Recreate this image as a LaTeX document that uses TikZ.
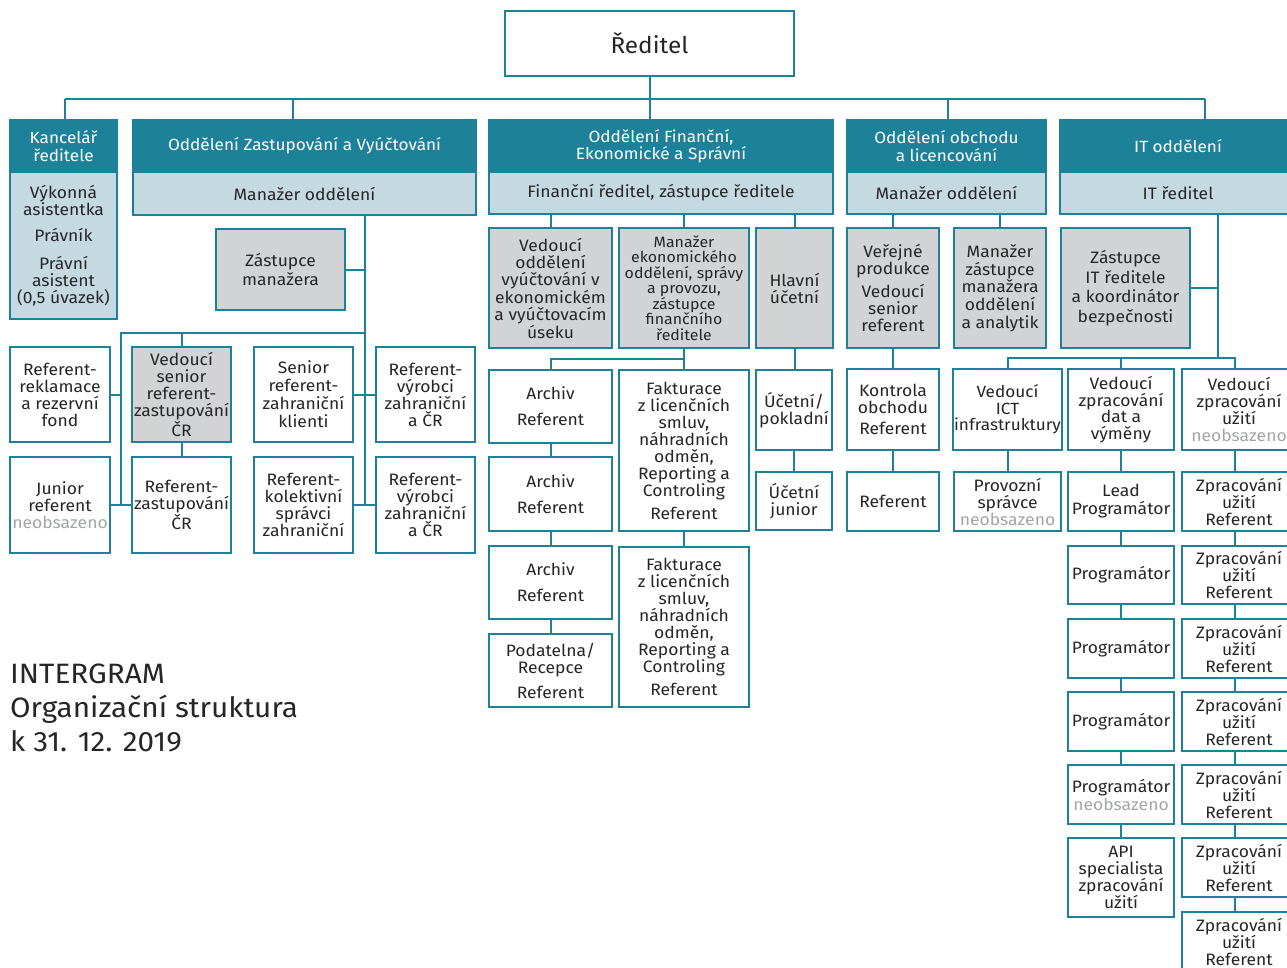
\documentclass[tikz,border=0pt]{standalone}
\usepackage{fontspec}
\setmainfont[FakeStretch=1.06]{Fira Sans}
\definecolor{cteal}{HTML}{1D8199}
\definecolor{clight}{HTML}{C5D9E1}
\definecolor{cgray}{HTML}{D1D3D4}
\definecolor{ctext}{HTML}{262626}
\definecolor{cneo}{HTML}{A3A5A8}
\tikzset{
  base/.style={draw=cteal, line width=2pt, align=center, inner sep=1pt, text=ctext, font=\fontsize{16.5}{17}\selectfont},
  wbox/.style={base, fill=white},
  gbox/.style={base, fill=cgray},
  lbox/.style={base, fill=clight},
  hbox/.style={base, fill=cteal, text=white, font=\fontsize{16.2}{17.5}\selectfont},
  conn/.style={draw=cteal, line width=2pt},
  ttl/.style={anchor=base west, inner sep=0pt, text=ctext, font=\fontsize{28}{34}\selectfont},
}
\newcommand\orgbox[7]{%
  \pgfmathsetmacro\obX{(#3+#5)/2}%
  \pgfmathsetmacro\obY{(#4+#6)/2}%
  \pgfmathsetmacro\obW{#5-#3}%
  \pgfmathsetmacro\obH{#6-#4}%
  \node[#2, minimum width=\obW, minimum height=\obH] (#1) at (\obX,\obY) {#7};}
\newcommand\neo[1]{\textcolor{cneo}{#1}}
\begin{document}
\begin{tikzpicture}[x=1pt,y=-1pt]
\useasboundingbox (0,0) rectangle (1287,967);
\clip (0,0) rectangle (1287,967);
\fill[white] (0,0) rectangle (1287,967);

% ---- top ----
\orgbox{red}{wbox,font=\fontsize{23}{25}\selectfont}{505}{11}{794}{76}{Ředitel}

\orgbox{kh}{hbox}{10}{120}{117}{172}{Kancelář\\ředitele}
\orgbox{kb}{lbox}{10}{172}{117}{319}{Výkonná\\asistentka\\[9pt]Právník\\[11pt]Právní\\asistent\\(0,5 úvazek)}

\orgbox{zh}{hbox}{133}{120}{476}{172}{Oddělení Zastupování a Vyúčtování}
\orgbox{zs}{lbox}{133}{172}{476}{215}{Manažer oddělení}

\orgbox{fh}{hbox}{489}{120}{833}{172}{Oddělení Finanční,\\Ekonomické a Správní}
\orgbox{fs}{lbox}{489}{172}{833}{214}{Finanční ředitel, zástupce ředitele}

\orgbox{oh}{hbox}{847}{120}{1046}{172}{Oddělení obchodu\\a licencování}
\orgbox{os}{lbox}{847}{172}{1046}{214}{Manažer oddělení}

\orgbox{ih}{hbox}{1060}{120}{1296}{172}{IT oddělení}
\orgbox{is}{lbox}{1060}{172}{1296}{214}{IT ředitel}

% ---- Zastupovani ----
\orgbox{zman}{gbox,font=\fontsize{16.5}{19}\selectfont}{216}{229}{345}{310}{Zástupce\\manažera}
\orgbox{z11}{wbox}{10}{347}{110}{442}{Referent-\\reklamace\\a rezervní\\fond}
\orgbox{z12}{gbox}{132}{347}{231}{442}{Vedoucí\\senior\\referent-\\zastupování\\ČR}
\orgbox{z13}{wbox,font=\fontsize{16.5}{18}\selectfont}{254}{347}{353}{442}{Senior\\referent-\\zahraniční\\klienti}
\orgbox{z14}{wbox}{376}{347}{475}{442}{Referent-\\výrobci\\zahraniční\\a ČR}
\orgbox{z21}{wbox}{10}{457}{110}{553}{Junior\\referent\\\neo{neobsazeno}}
\orgbox{z22}{wbox}{132}{457}{231}{553}{Referent-\\zastupování\\ČR}
\orgbox{z23}{wbox}{254}{457}{353}{553}{Referent-\\kolektivní\\správci\\zahraniční}
\orgbox{z24}{wbox}{376}{457}{475}{553}{Referent-\\výrobci\\zahraniční\\a ČR}

% ---- Financni ----
\orgbox{f1}{gbox,font=\fontsize{16.5}{17.4}\selectfont}{489}{228}{612}{348}{Vedoucí\\oddělení\\vyúčtování v\\ekonomickém\\a vyúčtovacím\\úseku}
\orgbox{f2}{gbox,font=\fontsize{15}{15.5}\selectfont}{619}{228}{749}{348}{Manažer\\ekonomického\\oddělení, správy\\a provozu,\\zástupce\\finančního\\ředitele}
\orgbox{f3}{gbox}{756}{228}{833}{348}{Hlavní\\účetní}
\orgbox{fa1}{wbox}{489}{370}{612}{443}{Archiv\\[9pt]Referent}
\orgbox{fa2}{wbox}{489}{457}{612}{531}{Archiv\\[9pt]Referent}
\orgbox{fa3}{wbox}{489}{546}{612}{619}{Archiv\\[9pt]Referent}
\orgbox{fp}{wbox}{489}{634}{612}{707}{Podatelna/\\Recepce\\[8pt]Referent}
\orgbox{fk1}{wbox}{619}{370}{749}{531}{Fakturace\\z licenčních\\smluv,\\náhradních\\odměn,\\Reporting a\\Controling\\[6pt]Referent}
\orgbox{fk2}{wbox}{619}{547}{749}{707}{Fakturace\\z licenčních\\smluv,\\náhradních\\odměn,\\Reporting a\\Controling\\[6pt]Referent}
\orgbox{fu1}{wbox}{756}{370}{832}{450}{Účetní/\\pokladní}
\orgbox{fu2}{wbox}{756}{472}{832}{530}{Účetní\\junior}

% ---- Obchod ----
\orgbox{o1}{gbox}{847}{228}{939}{348}{Veřejné\\produkce\\[6pt]Vedoucí\\senior\\referent}
\orgbox{o2}{gbox,font=\fontsize{16.5}{17.7}\selectfont}{954}{228}{1046}{348}{Manažer\\zástupce\\manažera\\oddělení\\a analytik}
\orgbox{ok1}{wbox}{847}{369}{939}{450}{Kontrola\\obchodu\\[4pt]Referent}
\orgbox{ok2}{wbox}{847}{472}{939}{531}{Referent}

% ---- IT ----
\orgbox{izt}{gbox,font=\fontsize{16.5}{19.5}\selectfont}{1061}{228}{1190}{348}{Zástupce\\IT ředitele\\a koordinátor\\bezpečnosti}
\orgbox{iv1}{wbox,font=\fontsize{16.2}{16.5}\selectfont}{954}{369}{1061}{450}{Vedoucí\\ICT\\infrastruktury}
\orgbox{iv1b}{wbox}{954}{472}{1061}{531}{Provozní\\správce\\\neo{neobsazeno}}
\orgbox{iv2}{wbox,font=\fontsize{16.5}{16.7}\selectfont}{1068}{369}{1174}{450}{Vedoucí\\zpracování\\dat a\\výměny}
\orgbox{ip0}{wbox,font=\fontsize{16.5}{18}\selectfont}{1068}{472}{1174}{531}{Lead\\Programátor}
\orgbox{ip1}{wbox}{1068}{546}{1174}{604}{Programátor}
\orgbox{ip2}{wbox}{1068}{619}{1174}{678}{Programátor}
\orgbox{ip3}{wbox}{1068}{692}{1174}{751}{Programátor}
\orgbox{ip4}{wbox,font=\fontsize{16.5}{18}\selectfont}{1068}{765}{1174}{824}{Programátor\\\neo{neobsazeno}}
\orgbox{ip5}{wbox}{1068}{838}{1174}{917}{API\\specialista\\zpracování\\užití}
\orgbox{iv3}{wbox,font=\fontsize{16.5}{16.7}\selectfont}{1182}{369}{1296}{450}{Vedoucí\\zpracování\\užití\\\neo{neobsazeno}}
\orgbox{iz1}{wbox}{1182}{472}{1296}{531}{Zpracování\\užití\\Referent}
\orgbox{iz2}{wbox}{1182}{546}{1296}{604}{Zpracování\\užití\\Referent}
\orgbox{iz3}{wbox}{1182}{619}{1296}{678}{Zpracování\\užití\\Referent}
\orgbox{iz4}{wbox}{1182}{692}{1296}{751}{Zpracování\\užití\\Referent}
\orgbox{iz5}{wbox}{1182}{765}{1296}{824}{Zpracování\\užití\\Referent}
\orgbox{iz6}{wbox}{1182}{838}{1296}{897}{Zpracování\\užití\\Referent}
\orgbox{iz7}{wbox}{1182}{912}{1296}{971}{Zpracování\\užití\\Referent}

% ---- title ----
\node[ttl] (t1) at (10,683) {INTERGRAM};
\node[ttl] (t2) at (10,717) {Organizační struktura};
\node[ttl] (t3) at (10,751) {k 31. 12. 2019};

% ---- connectors: top ----
\coordinate (b1) at (65,99);
\coordinate (b2) at (293,99);
\coordinate (b4) at (948,99);
\coordinate (b5) at (1205,99);
\draw[conn] (red.south) -- (red.south |- fh.north);
\draw[conn] (b1) -- (b5);
\draw[conn] (b1) -- (b1 |- kh.north);
\draw[conn] (b2) -- (b2 |- zh.north);
\draw[conn] (b4) -- (b4 |- oh.north);
\draw[conn] (b5) -- (b5 |- ih.north);

% ---- connectors: Zastupovani ----
\coordinate (zvx) at (365,0);
\coordinate (zhc) at (121,333);
\draw[conn] (zs.south -| zvx) -- (zvx |- z24.west);
\draw[conn] (zman.east) -- (zman.east -| zvx);
\draw[conn] (z13.east) -- (z14.west);
\draw[conn] (z23.east) -- (z24.west);
\draw[conn] (zvx |- zhc) -- (zhc) -- (zhc |- z21.east);
\draw[conn] (z11.east) -- (z11.east -| zhc);
\draw[conn] (z21.east) -- (z22.west);
\draw[conn] (z12.north |- zhc) -- (z12.north);
\draw[conn] (z12.south) -- (z22.north);

% ---- connectors: Financni ----
\coordinate (fhc) at (0,359);
\draw[conn] (f1.north |- fs.south) -- (f1.north);
\draw[conn] (f2.north |- fs.south) -- (f2.north);
\draw[conn] (f3.north |- fs.south) -- (f3.north);
\draw[conn] (f2.south) -- (fk1.north);
\draw[conn] (fa1.north) -- (fa1.north |- fhc) -- (fhc -| f2.south);
\draw[conn] (fa1.south) -- (fa2.north);
\draw[conn] (fa2.south) -- (fa3.north);
\draw[conn] (fa3.south) -- (fp.north);
\draw[conn] (fk1.south) -- (fk1.south |- fk2.north);
\draw[conn] (f3.south) -- (f3.south |- fu1.north);
\draw[conn] (fu1.south) -- (fu2.north);

% ---- connectors: Obchod ----
\draw[conn] (o1.north |- os.south) -- (o1.north);
\draw[conn] (o2.north |- os.south) -- (o2.north);
\draw[conn] (o1.south) -- (ok1.north);
\draw[conn] (ok1.south) -- (ok2.north);

% ---- connectors: IT ----
\coordinate (ihc) at (1218,358);
\coordinate (icx) at (1235,0);
\draw[conn] (is.south -| ihc) -- (ihc);
\draw[conn] (izt.east) -- (izt.east -| ihc);
\draw[conn] (iv1.north) -- (iv1.north |- ihc) -- (icx |- ihc) -- (icx |- iv3.north);
\draw[conn] (iv2.north |- ihc) -- (iv2.north);
\draw[conn] (iv1.south) -- (iv1b.north);
\draw[conn] (iv2.south) -- (ip0.north);
\draw[conn] (ip0.south) -- (ip1.north);
\draw[conn] (ip1.south) -- (ip2.north);
\draw[conn] (ip2.south) -- (ip3.north);
\draw[conn] (ip3.south) -- (ip4.north);
\draw[conn] (ip4.south) -- (ip5.north);
\draw[conn] (icx |- iv3.south) -- (icx |- iz1.north);
\draw[conn] (icx |- iz1.south) -- (icx |- iz2.north);
\draw[conn] (icx |- iz2.south) -- (icx |- iz3.north);
\draw[conn] (icx |- iz3.south) -- (icx |- iz4.north);
\draw[conn] (icx |- iz4.south) -- (icx |- iz5.north);
\draw[conn] (icx |- iz5.south) -- (icx |- iz6.north);
\draw[conn] (icx |- iz6.south) -- (icx |- iz7.north);
\end{tikzpicture}
\end{document}
